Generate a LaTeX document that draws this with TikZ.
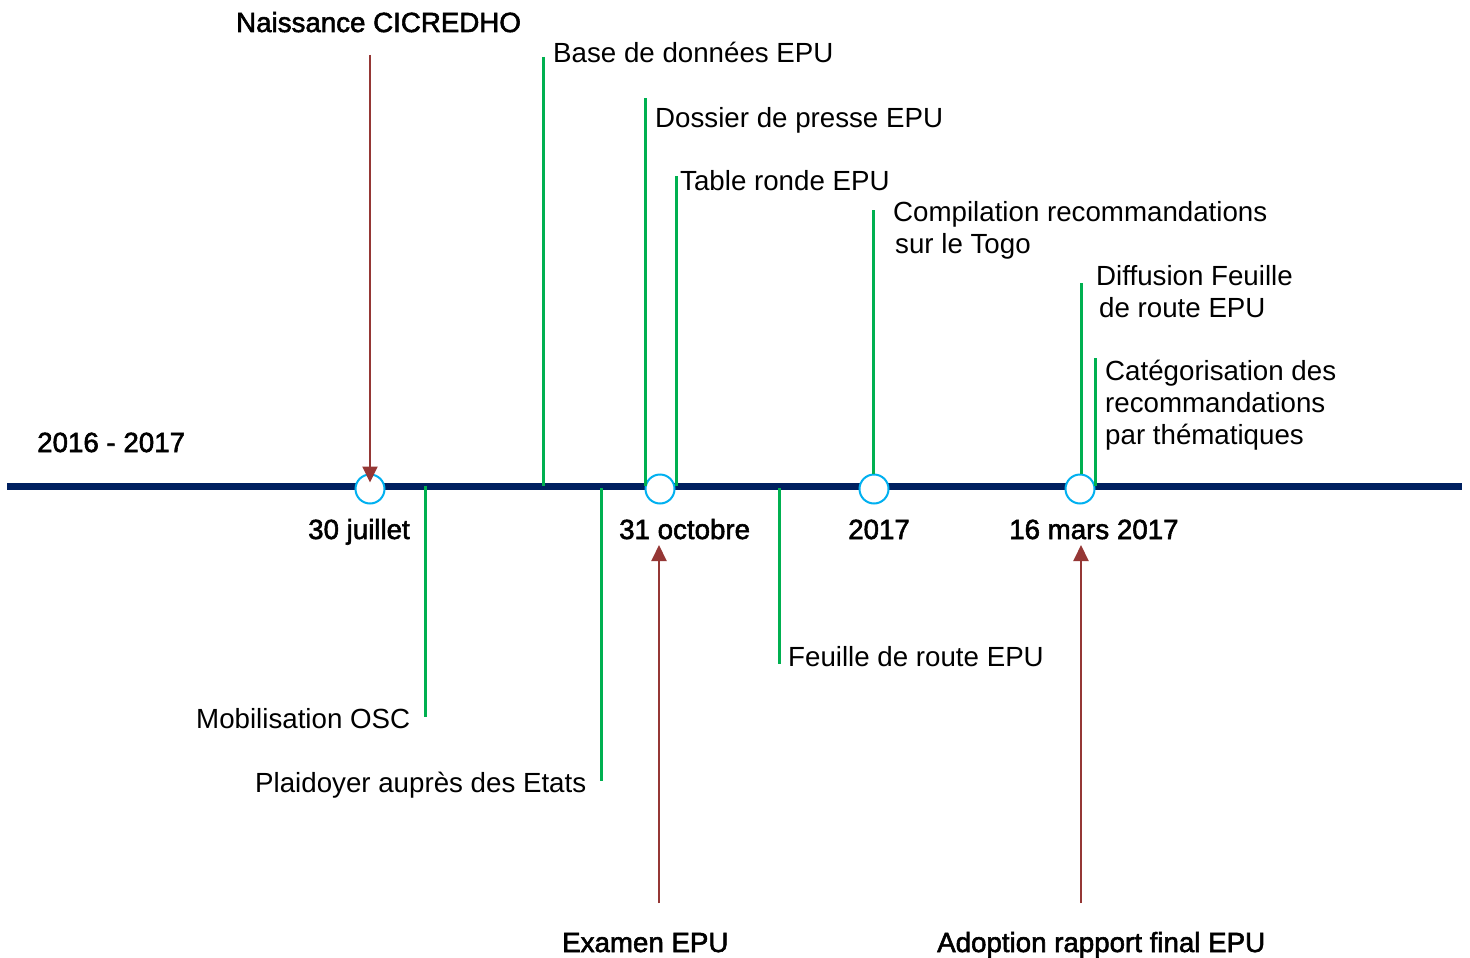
\documentclass[tikz,border=0pt]{standalone}
\usepackage{fontspec}
\setmainfont{Liberation Sans}
\newfontfamily\medfont[FakeBold=2]{Liberation Sans}
\usetikzlibrary{arrows.meta}
\definecolor{navy}{HTML}{002060}
\definecolor{cyanring}{HTML}{00B0F0}
\definecolor{evgreen}{HTML}{00B050}
\definecolor{arrowred}{HTML}{953735}
\begin{document}
\begin{tikzpicture}[x=1pt,y=-1pt,
  lbl/.style={font=\fontsize{27.7}{32}\selectfont, inner sep=0pt, anchor=base west, align=left},
  heavy/.style={font=\fontsize{27.7}{32}\selectfont\medfont},
  timeline/.style={draw=navy, line width=7pt},
  ring/.style={circle, draw=cyanring, fill=white, line width=2pt, minimum size=29pt, inner sep=0pt},
  evline/.style={draw=evgreen, line width=3pt},
  redarrow/.style={draw=arrowred, line width=2pt, -{Triangle[length=16pt,width=15pt]}}
]
\useasboundingbox[fill=white] (0,0) rectangle (1470,958);

% timeline
\coordinate (tlL) at (7,486);
\coordinate (tlR) at (1462,486);
\draw[timeline] (tlL) -- (tlR);

% rings
\node[ring] (c1) at (370,489) {};
\node[ring] (c2) at (660,489) {};
\node[ring] (c3) at (874,489) {};
\node[ring] (c4) at (1080,489) {};

% labels (multi-line nodes: base = last line's baseline)
\node[lbl,heavy] (naiss) at (236,32) {Naissance CICREDHO};
\node[lbl] (base) at (553,63) {Base de données EPU};
\node[lbl] (doss) at (655,127) {Dossier de presse EPU};
\node[lbl] (table) at (680,190) {Table ronde EPU};
\node[lbl] (comp) at (893,253) {Compilation recommandations\\\hspace*{2pt}sur le Togo};
\node[lbl] (diff) at (1096,317) {Diffusion Feuille\\\hspace*{3pt}de route EPU};
\node[lbl] (cat) at (1105,444) {Catégorisation des\\recommandations\\par thématiques};
\node[lbl,heavy] (yr) at (37,452) {2016 - 2017};
\node[lbl,heavy] (d1) at (308,539) {30 juillet};
\node[lbl,heavy] (d2) at (619,539) {31 octobre};
\node[lbl,heavy] (d3) at (848,539) {2017};
\node[lbl,heavy] (d4) at (1009,539) {16 mars 2017};
\node[lbl] (feuille) at (788,666) {Feuille de route EPU};
\node[lbl] (mob) at (196,728) {Mobilisation OSC};
\node[lbl] (plaid) at (255,792) {Plaidoyer auprès des Etats};
\node[lbl,heavy] (exam) at (562,952) {Examen EPU};
\node[lbl,heavy] (adopt) at (937,952) {Adoption rapport final EPU};

% green event lines (upper)
\coordinate (gBaseT) at (543,57);   \coordinate (gBaseB) at (543,486);
\coordinate (gDossT) at (645,98);   \coordinate (gDossB) at (645,486);
\coordinate (gTabT) at (676,176);   \coordinate (gTabB) at (676,486);
\coordinate (gCompT) at (873,210);
\coordinate (gDiffT) at (1081,283);
\coordinate (gCatT) at (1095,358);  \coordinate (gCatB) at (1095,486);
\draw[evline] (gBaseT) -- (gBaseB);
\draw[evline] (gDossT) -- (gDossB);
\draw[evline] (gTabT) -- (gTabB);
\draw[evline] (gCompT) -- (gCompT |- c3.north);
\draw[evline] (gDiffT) -- (gDiffT |- c4.north);
\draw[evline] (gCatT) -- (gCatB);

% green event lines (lower)
\coordinate (gMobT) at (425,486);   \coordinate (gMobB) at (425,717);
\coordinate (gPlaT) at (601,488);   \coordinate (gPlaB) at (601,781);
\coordinate (gFeuT) at (779,488);   \coordinate (gFeuB) at (779,664);
\draw[evline] (gMobT) -- (gMobB);
\draw[evline] (gPlaT) -- (gPlaB);
\draw[evline] (gFeuT) -- (gFeuB);

% red arrows
\coordinate (aNaiss) at (370,55);
\coordinate (aExam) at (659,903);
\coordinate (aExamEnd) at (659,545);
\coordinate (aAdopt) at (1081,903);
\coordinate (aAdoptEnd) at (1081,545);
\draw[redarrow] (aNaiss) -- ([yshift=-9pt]c1.north);
\draw[redarrow] (aExam) -- (aExamEnd);
\draw[redarrow] (aAdopt) -- (aAdoptEnd);
\end{tikzpicture}
\end{document}
